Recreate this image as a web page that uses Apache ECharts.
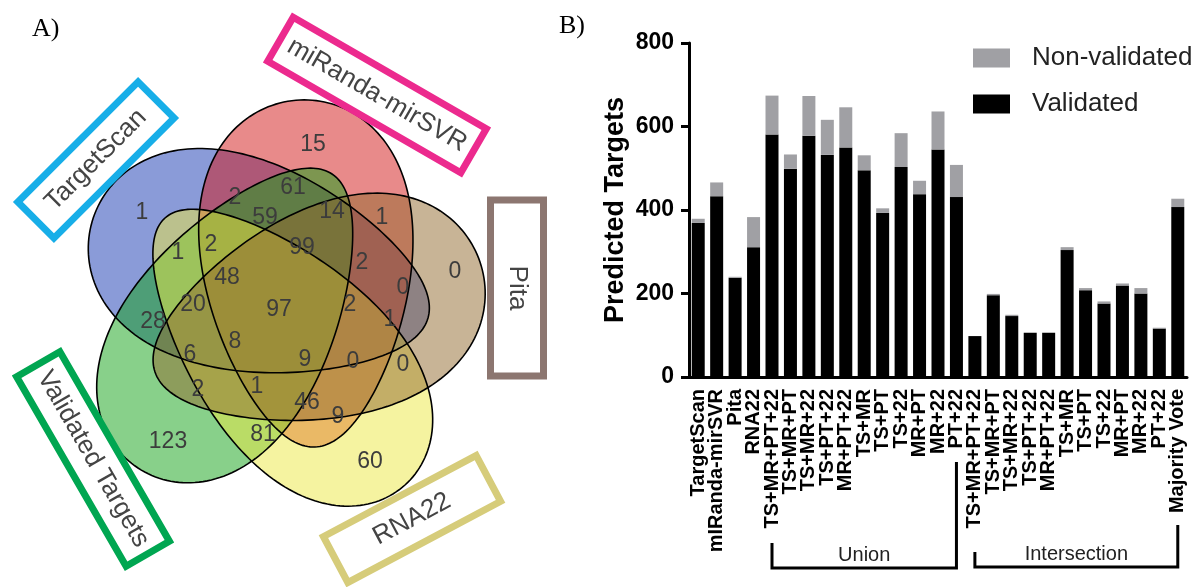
<!DOCTYPE html>
<html><head><meta charset="utf-8">
<script src="https://cdn.jsdelivr.net/npm/echarts@6/dist/echarts.min.js"></script>
<style>html,body{margin:0;padding:0;background:#fff}#c{width:1200px;height:587px}</style>
</head><body><div id="c"></div>
<script>
// ---------- data (bar chart, panel B) ----------
const categories = ['TargetScan','mIRanda-mirSVR','Pita','RNA22','TS+MR+PT+22','TS+MR+PT','TS+MR+22','TS+PT+22','MR+PT+22','TS+MR','TS+PT','TS+22','MR+PT','MR+22','PT+22','TS+MR+PT+22','TS+MR+PT','TS+MR+22','TS+PT+22','MR+PT+22','TS+MR','TS+PT','TS+22','MR+PT','MR+22','PT+22','Majority Vote'];
const validated    = [369,433,238,311,581,499,578,532,550,495,393,503,438,545,431,98,196,146,106,106,304,208,176,219,200,116,407];
const nonValidated = [10,33,2,72,93,34,95,84,96,36,11,81,32,91,77,0,3,3,0,0,7,5,5,5,13,2,20];
const yTicks = [0,200,400,600,800];
const groupNames = ['Union','Intersection'];
const groupFrom = [4,15];
const groupTo = [14,26];

// ---------- data (Venn diagram, panel A) ----------
const vennSets = ['TargetScan','miRanda-mirSVR','Validated Targets','RNA22','Pita'];
const vennCounts = [1,2,15,61,59,14,1,99,2,0,0,1,2,48,20,97,2,1,28,6,8,9,0,0,2,1,46,9,81,123,60];

// ---------- layout (positions / sizes / styles) ----------
const vennLabelPos = [[142,213],[235,198],[313,145],[293,188],[265,218],[332,212],[382,218],[302,248],[362,263],[403,288],[455,272],[178,253],[211,245],[227,278],[193,305],[279,310],[350,305],[390,320],[153,322],[190,355],[235,342],[305,360],[353,362],[403,365],[198,390],[257,387],[307,403],[338,417],[263,435],[168,442],[370,462]];
const vennShapes = [
  {tip:[428,318], far:[92,222],  b:104, k:0.25, fill:'rgba(21,55,177,0.5)'},
  {tip:[315,447], far:[300,100], b:104, k:0.25, fill:'rgba(209,21,21,0.5)'},
  {tip:[332,174], far:[138,468], b:100, k:0.25, fill:'rgba(17,161,21,0.5)'},
  {tip:[165,218], far:[405,485], b:96,  k:0.25, fill:'rgba(235,231,65,0.5)'},
  {tip:[155,372], far:[480,262], b:104, k:0.25, fill:'rgba(145,105,45,0.5)'}
];
const vennBoxes = [
  {c:[96,160], w:170, h:51, rot:45, color:'#17aee8'},
  {c:[377,95], w:223, h:51, rot:-30, color:'#ec2a8e'},
  {c:[93,459], w:219, h:50, rot:-60, color:'#00a651'},
  {c:[412,519], w:173, h:52, rot:28, color:'#d6cc7a'},
  {c:[517,288], w:176, h:53, rot:-90, color:'#8c7670'}
];

const FONT = '"Liberation Sans", Arial, Helvetica, sans-serif';

function eggPoints(s){
  const cx=(s.tip[0]+s.far[0])/2, cy=(s.tip[1]+s.far[1])/2;
  const dx=s.far[0]-s.tip[0], dy=s.far[1]-s.tip[1];
  const L=Math.hypot(dx,dy), A=L/2, ex=dx/L, ey=dy/L, px=-ey, py=ex;
  const pts=[];
  for(let i=0;i<200;i++){
    const t=i/200*2*Math.PI;
    const u=A*Math.cos(t), v=s.b*Math.sin(t)*(1+s.k*Math.cos(t));
    pts.push([cx+u*ex+v*px, cy+u*ey+v*py]);
  }
  return pts;
}

const chart = echarts.init(document.getElementById('c'), null, {renderer:'canvas'});

const option = {
  animation:false,
  backgroundColor:'#fff',
  grid:{left:689, right:13, top:43, bottom:210, containLabel:false},
  legend:{
    orient:'vertical', left:968, top:40, itemWidth:37, itemHeight:19, itemGap:20,
    icon:'rect', data:['Non-validated','Validated'],
    textStyle:{fontFamily:FONT, fontSize:26, color:'#222', padding:[0,0,0,17]}
  },
  xAxis:{
    type:'category', data:categories,
    axisLine:{lineStyle:{color:'#000', width:3}},
    axisTick:{alignWithLabel:true, length:7, lineStyle:{color:'#000', width:2.5}},
    axisLabel:{interval:0, rotate:90, margin:12, fontFamily:FONT, fontSize:20, fontWeight:'bold', color:'#000'}
  },
  yAxis:{
    type:'value', min:yTicks[0], max:yTicks[yTicks.length-1], interval:yTicks[1]-yTicks[0],
    name:'Predicted Targets', nameLocation:'middle', nameGap:60, nameRotate:90,
    nameTextStyle:{fontFamily:FONT, fontSize:27, fontWeight:'bold', color:'#000'},
    splitLine:{show:false},
    axisLine:{show:true, lineStyle:{color:'#000', width:3}},
    axisTick:{show:true, length:8, lineStyle:{color:'#000', width:3}},
    axisLabel:{margin:15, fontFamily:FONT, fontSize:23, fontWeight:'bold', color:'#000'}
  },
  series:[
    {name:'Validated', type:'bar', stack:'t', data:validated, barWidth:13, itemStyle:{color:'#000'}},
    {name:'Non-validated', type:'bar', stack:'t', data:nonValidated, barWidth:13, itemStyle:{color:'#a0a0a4'}}
  ]
};
chart.setOption(option);

// ---------- graphic elements ----------
const g = [];
g.push({type:'text', x:32, y:29, style:{text:'A)', font:'26px "Liberation Serif", "Times New Roman", serif', fill:'#000', align:'left', verticalAlign:'middle'}});
g.push({type:'text', x:559, y:26, style:{text:'B)', font:'26px "Liberation Serif", "Times New Roman", serif', fill:'#000', align:'left', verticalAlign:'middle'}});
vennShapes.forEach(s=>{ g.push({type:'polygon', shape:{points:eggPoints(s)}, style:{fill:s.fill, stroke:null}, z:1}); });
vennShapes.forEach(s=>{ g.push({type:'polygon', shape:{points:eggPoints(s)}, style:{fill:null, stroke:'#000', lineWidth:1.6}, z:2}); });
vennCounts.forEach((v,i)=>{
  g.push({type:'text', x:vennLabelPos[i][0], y:vennLabelPos[i][1], z:3,
    style:{text:String(v), font:'23px '+FONT, fill:'#3c3c3c', align:'center', verticalAlign:'middle'}});
});
vennBoxes.forEach((bx,i)=>{
  const r = bx.rot*Math.PI/180;
  g.push({type:'rect', x:bx.c[0], y:bx.c[1], rotation:r, z:3,
    shape:{x:-bx.w/2, y:-bx.h/2, width:bx.w, height:bx.h},
    style:{fill:'#fff', stroke:bx.color, lineWidth:7}});
  g.push({type:'text', x:bx.c[0], y:bx.c[1], rotation:r, z:4,
    style:{text:vennSets[i], font:'26px '+FONT, fill:'#444', align:'center', verticalAlign:'middle'}});
});
const bracketTop = [[543,462],[552,525]];
const bracketY = [568,567];
groupNames.forEach((nm,i)=>{
  const x1 = chart.convertToPixel({xAxisIndex:0}, groupFrom[i]);
  const x2 = chart.convertToPixel({xAxisIndex:0}, groupTo[i]);
  const y = bracketY[i];
  g.push({type:'polyline', z:3, shape:{points:[[x1,bracketTop[i][0]],[x1,y],[x2,y],[x2,bracketTop[i][1]]]},
    style:{fill:null, stroke:'#000', lineWidth:3}});
  g.push({type:'text', x:(x1+x2)/2, y:y-13, z:3,
    style:{text:nm, font:'20px '+FONT, fill:'#222', align:'center', verticalAlign:'middle'}});
});
chart.setOption({graphic:{elements:g}});
</script>
</body></html>
